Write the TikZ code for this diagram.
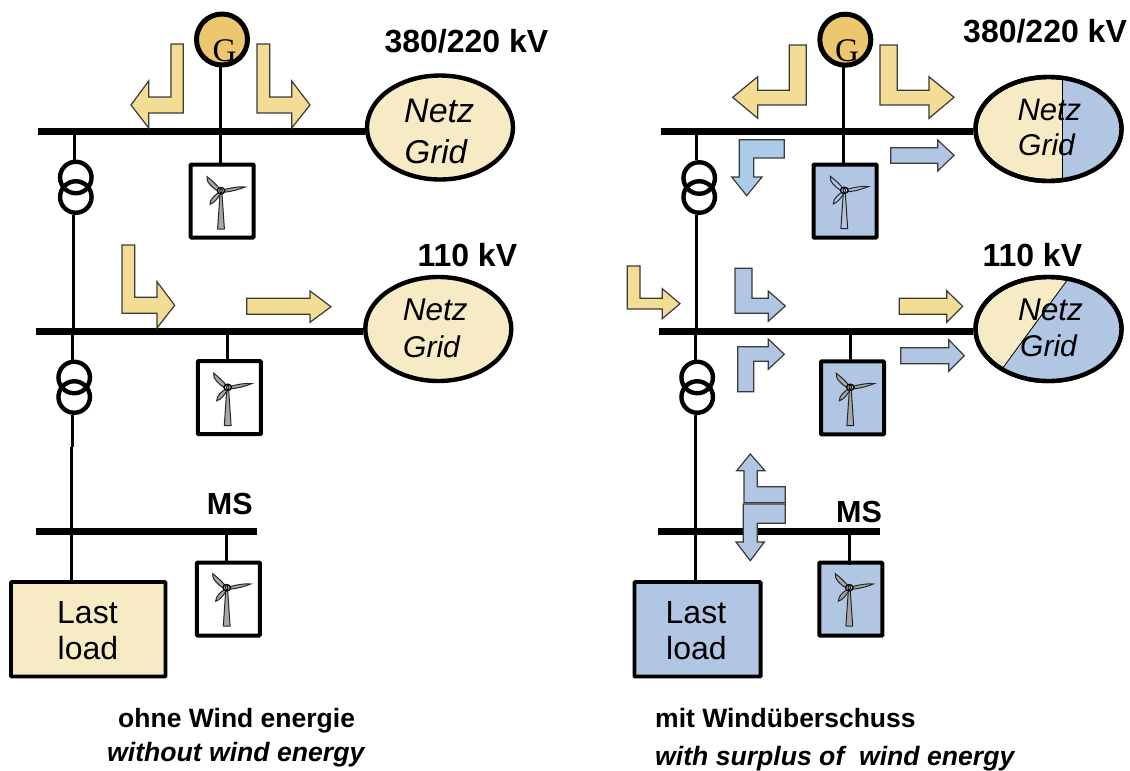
\documentclass[tikz,border=0pt]{standalone}
\usepackage{fontspec}
\setmainfont{Liberation Sans}
\newfontfamily\gfont{Liberation Serif}
\usetikzlibrary{shapes.geometric}
\definecolor{yarrowc}{HTML}{F3DC93}
\definecolor{barrowc}{HTML}{B1C6E2}
\definecolor{larrowc}{HTML}{ABCCE9}
\definecolor{pale}{HTML}{F7EBC5}
\definecolor{genc}{HTML}{EDC76F}
\definecolor{edgec}{HTML}{3A3A3A}
\tikzset{
  x=1pt,y=-1pt,
  bus/.style={line width=7pt},
  wire/.style={line width=3.4pt},
  yarrow/.style={draw=edgec,fill=yarrowc,line width=1.2pt,line join=miter},
  barrow/.style={draw=edgec,fill=barrowc,line width=1.2pt,line join=miter},
  larrow/.style={draw=edgec,fill=larrowc,line width=1.2pt,line join=miter},
  gen/.style={circle,draw,line width=5pt,fill=genc,minimum size=51pt,inner sep=0pt},
  coil/.style={circle,draw,line width=4.4pt,minimum size=31.5pt,inner sep=0pt},
  grid/.style={ellipse,draw,line width=4.4pt,fill=pale,minimum width=146pt,minimum height=104pt,inner sep=0pt},
  wtbox/.style={rectangle,draw,line width=4pt,rounded corners=0.8pt,minimum width=63pt,minimum height=73pt,inner sep=0pt},
  loadbox/.style={rectangle,draw,line width=3.8pt,rounded corners=0.8pt,minimum height=94.5pt,inner sep=0pt},
  lblbold/.style={anchor=base west,inner sep=0pt,font=\bfseries\fontsize{32}{36}\selectfont},
  lblms/.style={anchor=base west,inner sep=0pt,font=\bfseries\fontsize{30.5}{34}\selectfont},
  lblnet/.style={anchor=base west,inner sep=0pt,font=\itshape\fontsize{#1}{36}\selectfont},
  lblload/.style={anchor=base west,inner sep=0pt,font=\fontsize{32}{36}\selectfont},
  lblg/.style={anchor=base west,inner sep=0pt,font=\gfont\fontsize{33}{36}\selectfont},
  capde/.style={anchor=base west,inner sep=0pt,font=\bfseries\fontsize{26.5}{30}\selectfont},
  capen/.style={anchor=base west,inner sep=0pt,font=\bfseries\itshape\fontsize{26.6}{30}\selectfont},
  pics/turbine/.style={code={
    \filldraw[fill=#1,draw=black!85,line width=1pt,line join=round]
      (-1,3) -- (1,3) -- (3.4,38.3) -- (-3.4,38.3) -- cycle;
    \filldraw[fill=#1,draw=black!85,line width=1pt]
      (3,-1) .. controls (10,-3) and (18,-4.4) .. (24,-3.7) .. controls (18,-1.2) and (10,1) .. (3,1.5) -- cycle;
    \filldraw[fill=#1,draw=black!85,line width=1pt]
      (-2.2,-3) .. controls (-5,-6.5) and (-10,-11) .. (-14,-14) .. controls (-15.5,-9.5) and (-8,-1.8) .. (-3.2,0) -- cycle;
    \filldraw[fill=#1,draw=black!85,line width=1pt]
      (-2.4,2) .. controls (-5.5,4) and (-11,8) .. (-11,13.5) .. controls (-7,12.5) and (-3,7.5) .. (-0.5,3) -- cycle;
    \filldraw[fill=#1,draw=black,line width=1.2pt] (0,0) ellipse [x radius=3.8,y radius=3.2];
    \draw[black,line width=0.8pt] (0,0) ellipse [x radius=1.2,y radius=2.2];
  }}
}
\begin{document}
\begin{tikzpicture}
\useasboundingbox (0,0) rectangle (1130,771);

% ---------- left panel: anchors
\coordinate (lb1w) at (38,131.3);
\coordinate (lb2w) at (36,331.3);
\coordinate (lb3w) at (36,531.3);
\coordinate (lb3e) at (256.7,531.3);

% ---------- left panel: equipment
\node[grid] (lnet1) at (440,127.5) {};
\node[grid] (lnet2) at (438.3,329) {};
\node[gen] (lgen) at (222,39.5) {};
\node[wtbox,fill=white] (lwt1) at (222.2,201) {};
\node[wtbox,fill=white] (lwt2) at (229.3,397.7) {};
\node[wtbox,fill=white] (lwt3) at (228.3,599) {};
\node[loadbox,fill=pale,minimum width=154.5pt] (lload) at (88.3,629.3) {};
\node[coil] (ltr1a) at (75.8,177.5) {};
\node[coil] (ltr1b) at (75.8,197) {};
\node[coil] (ltr2a) at (74.2,377.5) {};
\node[coil] (ltr2b) at (74.2,397) {};

% ---------- left panel: wires
\coordinate (lv1) at (74.3,131.3);
\coordinate (lv1b) at (74.3,160);
\coordinate (lv2) at (73.3,214.5);
\coordinate (lv2b) at (73.3,331.3);
\coordinate (lv3) at (72.3,331.3);
\coordinate (lv3b) at (72.3,360);
\coordinate (lv4) at (72.3,414.5);
\coordinate (lv4b) at (72.3,447);
\coordinate (lv5) at (71.3,447);
\coordinate (lv5b) at (71.3,581);
\draw[wire] (lv1) -- (lv1b);
\draw[wire] (lv2) -- (lv2b);
\draw[wire] (lv3) -- (lv3b);
\draw[wire] (lv4) -- (lv4b);
\draw[wire] (lv5) -- (lv5b);
\coordinate (lg1) at (220.3,66);
\coordinate (lg2) at (220.3,166);
\draw[wire] (lg1) -- (lg2);
\coordinate (ls2a) at (227.3,331.3);
\coordinate (ls2b) at (227.3,363);
\draw[wire] (ls2a) -- (ls2b);
\coordinate (ls3a) at (226.3,531.3);
\coordinate (ls3b) at (226.3,564);
\draw[wire] (ls3a) -- (ls3b);
\draw[bus] (lb1w) -- (lb1w -| lnet1.west);
\draw[bus] (lb2w) -- (lb2w -| lnet2.west);
\draw[bus] (lb3w) -- (lb3e);

% ---------- left panel: arrows
\draw[yarrow] (183.3,44) -- (171,44) -- (171,97) -- (148.7,97) -- (148.7,81) -- (131,105) -- (148.7,128) -- (148.7,113) -- (183.3,113) -- cycle;
\draw[yarrow] (257,44) -- (269.7,44) -- (269.7,97) -- (291.7,97) -- (291.7,81) -- (310,105) -- (291.7,128) -- (291.7,113) -- (257,113) -- cycle;
\draw[yarrow] (122,245) -- (134.7,245) -- (134.7,297.3) -- (157,297.3) -- (157,281.7) -- (174.7,305.3) -- (157,328) -- (157,313.3) -- (122,313.3) -- cycle;
\draw[yarrow] (246.7,298.3) -- (310,298.3) -- (310,291) -- (331,306.7) -- (310,322.3) -- (310,314.3) -- (246.7,314.3) -- cycle;

% ---------- left panel: turbines
\pic at (221,190.7) {turbine={black!35}};
\pic at (227.7,387.3) {turbine={black!35}};
\pic at (226.7,587.7) {turbine={black!35}};

% ---------- left panel: text
\node[lblg] (lgt) at (212.3,61.7) {G};
\node[lblbold] (lv380) at (384.3,52.7) {380/220 kV};
\node[lblbold] (lv110) at (417.3,266) {110 kV};
\node[lblms] (lms) at (206.7,514.5) {MS};
\node[lblnet=34] (ln1) at (404,122.7) {Netz};
\node[lblnet=33] (lg1t) at (404.5,163.7) {Grid};
\node[lblnet=31.5] (ln2) at (402.7,320.5) {Netz};
\node[lblnet=30] (lg2t) at (403,357) {Grid};
\node[lblload] (llast) at (57,623.7) {Last};
\node[lblload] (lload2) at (57.5,659.3) {load};
\node[capde] (lcap1) at (118,727) {ohne Wind energie};
\node[capen] (lcap2) at (107,761) {without wind energy};

% ---------- right panel: anchors
\coordinate (rb1w) at (660.7,131.3);
\coordinate (rb2w) at (659,331.3);
\coordinate (rb3w) at (658,531.3);
\coordinate (rb3e) at (880,531.3);

% ---------- right panel: equipment
\node[grid] (rnet1) at (1048.5,129) {};
\begin{scope}
  \clip (1048.5,129) ellipse [x radius=73,y radius=52];
  \fill[barrowc] (1062.7,60) rectangle (1130,190);
  \draw[line width=0.8pt] (1062.7,60) -- (1062.7,190);
\end{scope}
\draw[line width=4.4pt] (rnet1.center) ellipse [x radius=73,y radius=52];
\node[grid] (rnet2) at (1048.5,329) {};
\begin{scope}
  \clip (1048.5,329) ellipse [x radius=73,y radius=52];
  \fill[barrowc] (1067.3,280) -- (1003.3,367.3) -- (1003.3,390) -- (1130,390) -- (1130,270) -- (1067.3,270) -- cycle;
  \draw[line width=0.8pt] (1074.7,270) -- (1067.3,280) -- (1003.3,367.3) -- (995,378);
\end{scope}
\draw[line width=4.4pt] (rnet2.center) ellipse [x radius=73,y radius=52];
\node[gen] (rgen) at (845.3,39.7) {};
\node[wtbox,fill=barrowc] (rwt1) at (845,201) {};
\node[wtbox,fill=barrowc] (rwt2) at (852.5,397.8) {};
\node[wtbox,fill=barrowc] (rwt3) at (850.8,599.2) {};
\node[loadbox,fill=barrowc,minimum width=126.2pt] (rload) at (697.5,629.3) {};
\node[coil] (rtr1a) at (699.2,178) {};
\node[coil] (rtr1b) at (699.2,197) {};
\node[coil] (rtr2a) at (697.2,377.5) {};
\node[coil] (rtr2b) at (697.2,397) {};

% ---------- right panel: wires
\coordinate (rv1) at (696.7,131.3);
\coordinate (rv1b) at (696.7,160);
\coordinate (rv2) at (696.7,214.5);
\coordinate (rv2b) at (696.7,331.3);
\coordinate (rv3) at (695.3,331.3);
\coordinate (rv3b) at (695.3,360);
\coordinate (rv4) at (695.3,414.5);
\coordinate (rv4b) at (695.3,581);
\draw[wire] (rv1) -- (rv1b);
\draw[wire] (rv2) -- (rv2b);
\draw[wire] (rv3) -- (rv3b);
\draw[wire] (rv4) -- (rv4b);
\coordinate (rg1) at (843.3,66);
\coordinate (rg2) at (843.3,166);
\draw[wire] (rg1) -- (rg2);
\coordinate (rs2a) at (850.3,331.3);
\coordinate (rs2b) at (850.3,361);
\draw[wire] (rs2a) -- (rs2b);
\coordinate (rs3a) at (849.3,531.3);
\coordinate (rs3b) at (849.3,565);
\draw[wire] (rs3a) -- (rs3b);
\draw[bus] (rb1w) -- (rb1w -| rnet1.west);
\draw[bus] (rb2w) -- (rb2w -| rnet2.west);
\draw[bus] (rb3w) -- (rb3e);

% ---------- right panel: arrows
\draw[yarrow] (806.3,45) -- (789.3,45) -- (789.3,90.3) -- (757.7,90.3) -- (757.7,76.7) -- (732.7,97.3) -- (757.7,118.3) -- (757.7,105) -- (806.3,105) -- cycle;
\draw[yarrow] (880,45) -- (897.3,45) -- (897.3,90.3) -- (929,90.3) -- (929,76.7) -- (954,97.3) -- (929,118.3) -- (929,105) -- (880,105) -- cycle;
\draw[larrow] (784.3,139.7) -- (739.3,139.7) -- (739.3,177) -- (731.7,177) -- (746.7,195.7) -- (762,177) -- (753.7,177) -- (753.7,158) -- (784.3,158) -- cycle;
\draw[barrow] (890.7,147.7) -- (937.7,147.7) -- (937.7,140) -- (954,155.3) -- (937.7,171) -- (937.7,163.3) -- (890.7,163.3) -- cycle;
\draw[yarrow] (627.3,266) -- (640,266) -- (640,298.3) -- (662.3,298.3) -- (662.3,288.7) -- (680,303.7) -- (662.3,318.7) -- (662.3,309) -- (627.3,309) -- cycle;
\draw[barrow] (735,268.3) -- (752,268.3) -- (752,298.3) -- (768.3,298.3) -- (768.3,291) -- (785.3,306) -- (768.3,321.3) -- (768.3,313.3) -- (735,313.3) -- cycle;
\draw[yarrow] (899.3,298.3) -- (946.7,298.3) -- (946.7,290.7) -- (962.7,306.3) -- (946.7,322.3) -- (946.7,314.3) -- (899.3,314.3) -- cycle;
\draw[barrow] (737.7,346.7) -- (768.3,346.7) -- (768.3,339) -- (784.3,354.3) -- (768.3,369.3) -- (768.3,361.3) -- (753.7,361.3) -- (753.7,391.7) -- (737.7,391.7) -- cycle;
\draw[barrow] (900.7,347.7) -- (948.7,347.7) -- (948.7,339.7) -- (964.3,355.7) -- (948.7,371.3) -- (948.7,363.7) -- (900.7,363.7) -- cycle;
\draw[barrow] (750.3,454) -- (736.7,470.7) -- (744,470.7) -- (744,502.7) -- (785.3,502.7) -- (785.3,486.7) -- (757.3,486.7) -- (757.3,470.7) -- (765,470.7) -- cycle;
\draw[barrow] (743.3,504) -- (785.3,504) -- (785.3,523.3) -- (757.3,523.3) -- (757.3,542) -- (764.3,542) -- (750.3,560.7) -- (736,542) -- (743.3,542) -- cycle;

% ---------- right panel: turbines
\pic at (844.3,190.3) {turbine=barrowc};
\pic at (850.3,387.3) {turbine={black!35}};
\pic at (849.3,587.7) {turbine={black!35}};

% ---------- right panel: text
\node[lblg] (rgt) at (835,61.7) {G};
\node[lblbold] (rv380) at (963,42) {380/220 kV};
\node[lblbold] (rv110) at (982.3,266) {110 kV};
\node[lblms] (rms) at (836,522.7) {MS};
\node[lblnet=31] (rn1) at (1017.3,120.5) {Netz};
\node[lblnet=30] (rg1t) at (1018,155.5) {Grid};
\node[lblnet=31.5] (rn2) at (1018,320.5) {Netz};
\node[lblnet=30] (rg2t) at (1020,356.5) {Grid};
\node[lblload] (rlast) at (665.5,623.7) {Last};
\node[lblload] (rload2) at (666,659.3) {load};
\node[capde] (rcap1) at (655,727) {mit Windüberschuss};
\node[capen] (rcap2) at (655,765) {with surplus of\ \ wind energy};
\end{tikzpicture}
\end{document}
